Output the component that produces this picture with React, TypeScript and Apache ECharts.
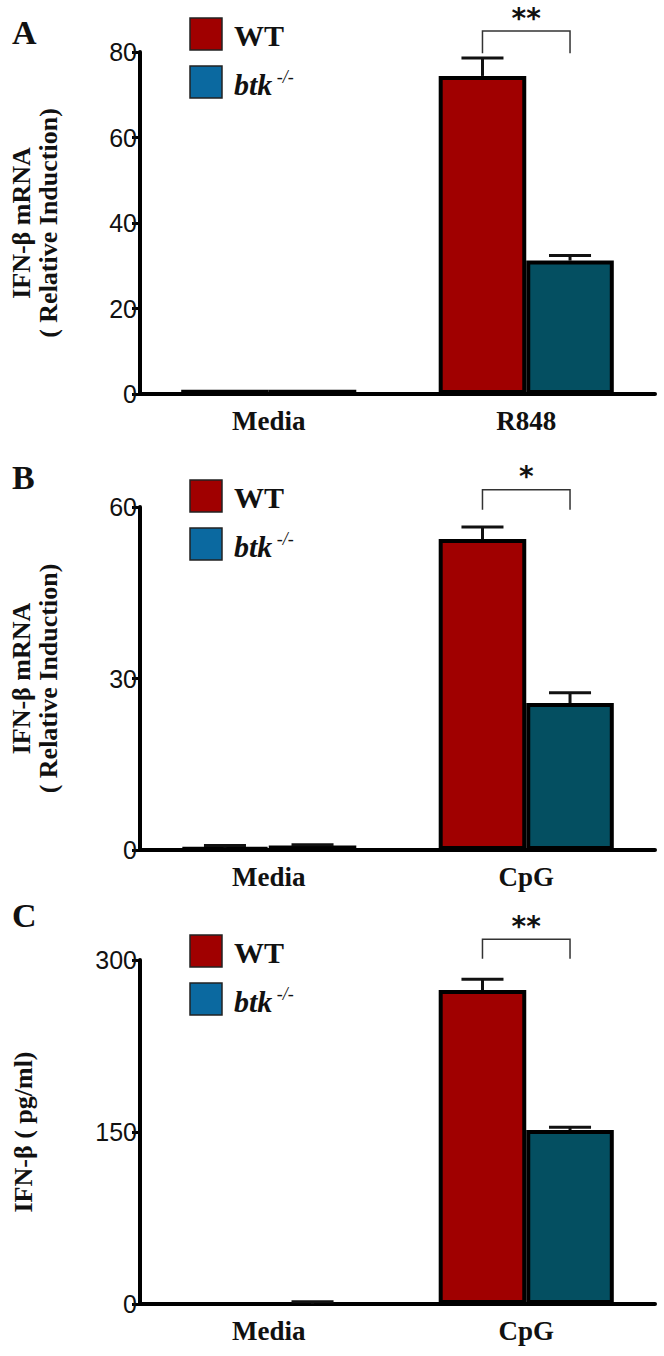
import React, { useEffect, useRef } from "react";
import * as echarts from "echarts";

// ---- data ----
const categoriesA = ["Media", "R848"];
const categoriesB = ["Media", "CpG"];
const categoriesC = ["Media", "CpG"];

const wtA = [1, 74.4];
const wtErrA = [0, 4.2];
const btkA = [1, 31.2];
const btkErrA = [0, 1.2];

const wtB = [0.4, 54.4];
const wtErrB = [0.4, 2.1];
const btkB = [0.8, 25.7];
const btkErrB = [0.1, 1.8];

const wtC = [0, 273.8];
const wtErrC = [0, 9.5];
const btkC = [0, 151.7];
const btkErrC = [2, 2.5];

const yTicksA = { min: 0, max: 80, interval: 20 };
const yTicksB = { min: 0, max: 60, interval: 30 };
const yTicksC = { min: 0, max: 300, interval: 150 };

// significance brackets: [category index, line value, end value]
const sigA = [1, 84.9, 79.7];
const sigB = [1, 63.0, 59.5];
const sigC = [1, 318, 301];
const sigLabels = ["**", "*", "**"];

const panelLetters = ["A", "B", "C"];
const yTitlesA = ["IFN-β mRNA", "( Relative Induction)"];
const yTitlesB = ["IFN-β mRNA", "( Relative Induction)"];
const yTitlesC = ["IFN-β ( pg/ml)"];
const legendNames = ["WT", "btk"];

const RED = "#A00000";
const TEAL = "#044F61";
const LEG_BLUE = "#0B69A0";
const BAR_FRAC = 0.34;

const SERIF = "'Liberation Serif', 'Times New Roman', serif";
const SANS = "'Liberation Sans Narrow', 'Arial Narrow', 'Liberation Sans', Arial, sans-serif";

function errItem(side: number) {
  return (params: any, api: any) => {
    const cat = api.value(0);
    const v = api.value(1);
    const e = api.value(2);
    if (!(e > 0)) return { type: "group", children: [] };
    const band = api.size([1, 0])[0];
    const bw = band * BAR_FRAC;
    const base = api.coord([cat, v]);
    const top = api.coord([cat, v + e]);
    const x = base[0] + (side === 0 ? -bw / 2 : bw / 2);
    const cap = bw * 0.48;
    const st = { stroke: "#111", lineWidth: 3 };
    return {
      type: "group",
      children: [
        { type: "line", shape: { x1: x, y1: base[1], x2: x, y2: top[1] }, style: st },
        { type: "line", shape: { x1: x - cap / 2, y1: top[1], x2: x + cap / 2, y2: top[1] }, style: st },
      ],
    };
  };
}

function sigItem(label: string) {
  return (params: any, api: any) => {
    const cat = api.value(0);
    const yl = api.value(1);
    const ye = api.value(2);
    const band = api.size([1, 0])[0];
    const bw = band * BAR_FRAC;
    const c = api.coord([cat, yl]);
    const e = api.coord([cat, ye]);
    const x1 = c[0] - bw / 2;
    const x2 = c[0] + bw / 2;
    const st = { stroke: "#333", lineWidth: 1.5, fill: "none" };
    return {
      type: "group",
      children: [
        { type: "polyline", shape: { points: [[x1, e[1]], [x1, c[1]], [x2, c[1]], [x2, e[1]]] }, style: st },
        {
          type: "text",
          x: c[0],
          y: c[1] + 1,
          style: {
            text: label,
            fill: "#111",
            font: "bold 28px 'DejaVu Sans', sans-serif",
            align: "center",
            verticalAlign: "bottom",
          },
        },
      ],
    };
  };
}

export default function App() {
  const ref = useRef<HTMLDivElement>(null);
  useEffect(() => {
    if (!ref.current) return;
    const chart = echarts.init(ref.current, undefined, { renderer: "svg" });

    const grids = [
      { left: 140, top: 52, width: 515, height: 342 },
      { left: 140, top: 507, width: 515, height: 343 },
      { left: 140, top: 960, width: 515, height: 344 },
    ];
    const cats = [categoriesA, categoriesB, categoriesC];
    const ticks = [yTicksA, yTicksB, yTicksC];
    const wts = [wtA, wtB, wtC];
    const wtErrs = [wtErrA, wtErrB, wtErrC];
    const btks = [btkA, btkB, btkC];
    const btkErrs = [btkErrA, btkErrB, btkErrC];
    const sigs = [sigA, sigB, sigC];

    const xAxis = cats.map((c, i) => ({
      type: "category",
      gridIndex: i,
      data: c,
      axisLine: { lineStyle: { color: "#000", width: 4 } },
      axisTick: { show: false },
      axisLabel: { color: "#111", fontFamily: SERIF, fontWeight: "bold", fontSize: 27, margin: 13 },
    }));
    const yAxis = ticks.map((t, i) => ({
      type: "value",
      gridIndex: i,
      min: t.min,
      max: t.max,
      interval: t.interval,
      splitLine: { show: false },
      axisLine: { show: true, lineStyle: { color: "#000", width: 4 } },
      axisTick: { show: true, length: 8, lineStyle: { color: "#000", width: 3 } },
      axisLabel: { color: "#111", fontFamily: SANS, fontSize: 25, margin: 3 },
    }));

    const series: any[] = [];
    for (let i = 0; i < 3; i++) {
      series.push({
        type: "bar",
        name: "WT",
        xAxisIndex: i,
        yAxisIndex: i,
        data: wts[i],
        barWidth: BAR_FRAC * 100 + "%",
        barGap: "0%",
        itemStyle: { color: RED, borderColor: "#000", borderWidth: 4 },
        z: 2,
      });
      series.push({
        type: "bar",
        name: "btk",
        xAxisIndex: i,
        yAxisIndex: i,
        data: btks[i],
        barWidth: BAR_FRAC * 100 + "%",
        barGap: "0%",
        itemStyle: { color: TEAL, borderColor: "#000", borderWidth: 4 },
        z: 2,
      });
      series.push({
        type: "custom",
        xAxisIndex: i,
        yAxisIndex: i,
        clip: false,
        z: 3,
        renderItem: errItem(0),
        data: wts[i].map((v, k) => [k, v, wtErrs[i][k]]),
      });
      series.push({
        type: "custom",
        xAxisIndex: i,
        yAxisIndex: i,
        clip: false,
        z: 3,
        renderItem: errItem(1),
        data: btks[i].map((v, k) => [k, v, btkErrs[i][k]]),
      });
      series.push({
        type: "custom",
        xAxisIndex: i,
        yAxisIndex: i,
        clip: false,
        z: 3,
        renderItem: sigItem(sigLabels[i]),
        data: [sigs[i]],
      });
    }

    const legendTops = [18, 480, 935];
    const letterY = [32, 477, 915];
    const titleSets = [yTitlesA, yTitlesB, yTitlesC];
    const graphic: any[] = [];
    for (let i = 0; i < 3; i++) {
      const lt = legendTops[i];
      graphic.push({
        type: "rect",
        shape: { x: 190, y: lt, width: 32, height: 32 },
        style: { fill: RED, stroke: "#222", lineWidth: 1.5 },
      });
      graphic.push({
        type: "rect",
        shape: { x: 190, y: lt + 48, width: 32, height: 32 },
        style: { fill: LEG_BLUE, stroke: "#222", lineWidth: 1.5 },
      });
      graphic.push({
        type: "text",
        x: 234,
        y: lt + 17,
        style: {
          text: legendNames[0],
          fill: "#111",
          font: `bold 30px ${SERIF}`,
          verticalAlign: "middle",
        },
      });
      graphic.push({
        type: "text",
        x: 234,
        y: lt + 66,
        style: {
          text: "{i|" + legendNames[1] + "}{s| -/-}",
          verticalAlign: "middle",
          rich: {
            i: { fontFamily: SERIF, fontStyle: "italic", fontWeight: "bold", fontSize: 30, fill: "#111", color: "#111" },
            s: { fontFamily: SERIF, fontStyle: "italic", fontSize: 18, fill: "#111", color: "#111", verticalAlign: "top", padding: [0, 0, 14, 0] },
          },
        },
      });
      graphic.push({
        type: "text",
        x: 12,
        y: letterY[i],
        style: { text: panelLetters[i], fill: "#111", font: `bold 34px ${SERIF}`, verticalAlign: "middle" },
      });
      const g = grids[i];
      const cy = g.top + g.height / 2;
      const titles = titleSets[i];
      const xs = titles.length === 2 ? [21, 48] : [23];
      titles.forEach((t, k) => {
        graphic.push({
          type: "text",
          x: xs[k],
          y: cy,
          rotation: Math.PI / 2,
          style: {
            text: t,
            fill: "#111",
            font: `bold 26px ${SERIF}`,
            align: "center",
            verticalAlign: "middle",
          },
        });
      });
    }

    chart.setOption({
      animation: false,
      backgroundColor: "#fff",
      grid: grids,
      xAxis,
      yAxis,
      series,
      graphic,
    });
    return () => chart.dispose();
  }, []);
  return <div ref={ref} style={{ position: "absolute", left: 0, top: 0, width: 664, height: 1356 }} />;
}
